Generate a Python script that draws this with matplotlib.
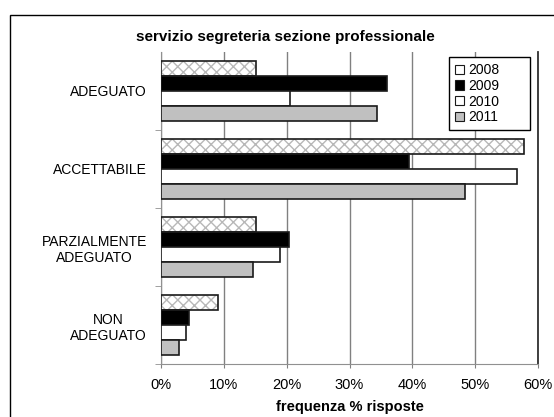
import matplotlib
matplotlib.use("Agg")
import matplotlib.pyplot as plt
from matplotlib.patches import Patch, Rectangle
from matplotlib.ticker import FixedLocator, PercentFormatter
import numpy as np

plt.rcParams['font.family'] = ['Liberation Sans', 'DejaVu Sans']

categories = ['ADEGUATO', 'ACCETTABILE', 'PARZIALMENTE\nADEGUATO', 'NON\nADEGUATO']
years = ['2008', '2009', '2010', '2011']
v2008 = [15.1, 57.8, 15.1, 9.1]
v2009 = [36.0, 39.4, 20.4, 4.5]
v2010 = [20.6, 56.7, 19.0, 3.9]
v2011 = [34.4, 48.4, 14.6, 2.9]
series = [v2008, v2009, v2010, v2011]

faces = ['white', 'black', 'white', '#c0c0c0']
edge = '#1a1a1a'

fig = plt.figure(figsize=(5.54, 4.17), dpi=100)
ax = fig.add_axes([161/554, 1 - 364/417, 377/554, 312/417])

y = np.arange(len(categories))
h = 0.192
for i, vals in enumerate(series):
    pos = y + (i - 1.5) * h
    if i == 0:
        ax.barh(pos, vals, height=h, color='white', hatch='xxx',
                edgecolor='#b8b8b8', linewidth=0, zorder=3)
        ax.barh(pos, vals, height=h, fill=False, edgecolor=edge,
                linewidth=1.2, zorder=4)
    else:
        ax.barh(pos, vals, height=h, color=faces[i], edgecolor=edge,
                linewidth=1.2, zorder=3)

ax.set_xlim(0, 60)
ax.set_ylim(3.5, -0.5)
ax.set_xticks(np.arange(0, 61, 10))
ax.xaxis.set_major_formatter(PercentFormatter(decimals=0))
ax.set_yticks(y)
ax.set_yticklabels(categories, multialignment='center', fontsize=10)
ax.yaxis.set_minor_locator(FixedLocator([0.5, 1.5, 2.5, 3.5]))
ax.tick_params(axis='y', which='major', length=0, pad=10)
ax.tick_params(axis='y', which='minor', length=4, color='#909090', direction='out')
ax.tick_params(axis='x', length=3, color='#808080', labelsize=10.5, pad=7)

ax.grid(axis='x', color='#808080', linewidth=1, zorder=0)
ax.set_axisbelow(True)
ax.spines['top'].set_visible(False)
ax.spines['left'].set_color('#909090')
ax.spines['bottom'].set_color('#909090')
ax.spines['right'].set_color('#303030')
ax.spines['right'].set_linewidth(1.3)

ax.set_xlabel('frequenza % risposte', fontsize=10.5, fontweight='bold', labelpad=6)

handles = [Patch(facecolor=faces[i], edgecolor=edge, linewidth=0.8, label=years[i])
           for i in range(4)]
leg = ax.legend(handles=handles, loc='upper left',
                bbox_to_anchor=(0.764, 0.984, 0.215, 0.0), mode='expand',
                fontsize=10, handlelength=0.65, handleheight=0.65, handletextpad=0.3,
                labelspacing=0.12, borderpad=0.45, fancybox=False, framealpha=1,
                edgecolor='black', borderaxespad=0)
leg.get_frame().set_linewidth(1)

fig.text(285/554, 1 - 37/417, 'servizio segreteria sezione professionale',
         ha='center', va='center', fontsize=11, fontweight='bold')

fig.patches.append(Rectangle((10/554, -0.1), 1.2, 1 - 15/417 + 0.1,
                             transform=fig.transFigure, fill=False,
                             edgecolor='black', linewidth=1))

fig.savefig('out.png', dpi=100)
